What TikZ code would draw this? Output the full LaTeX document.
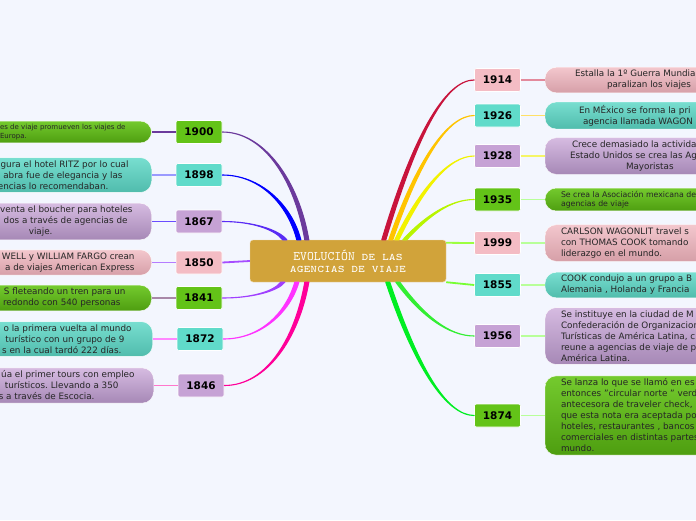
\documentclass[tikz,border=0pt]{standalone}
\usepackage{fontspec}
\setmainfont{DejaVu Sans}
\newfontfamily\titlefont{lmmonocaps10-regular.otf}
\usepackage{tikz}
\usetikzlibrary{positioning}
\frenchspacing

\definecolor{bg}{HTML}{F3F6FE}
\definecolor{gold}{HTML}{D1A33A}
\definecolor{grn}{HTML}{63C318}
\definecolor{tea}{HTML}{60DBCA}
\definecolor{lav}{HTML}{C6A2D5}
\definecolor{pnk}{HTML}{F4BCC4}
\definecolor{grntop}{HTML}{74CA2E}
\definecolor{grnbot}{HTML}{4E9E10}
\definecolor{teatop}{HTML}{78DED0}
\definecolor{teabot}{HTML}{50BCAC}
\definecolor{lavtop}{HTML}{D6BBE1}
\definecolor{lavbot}{HTML}{A688B6}
\definecolor{pnktop}{HTML}{F3C7CD}
\definecolor{pnkbot}{HTML}{D69FA8}
% branch colours
\definecolor{br1900}{HTML}{6B3A9C}
\definecolor{br1898}{HTML}{0000FF}
\definecolor{br1867}{HTML}{5A2CF5}
\definecolor{br1850}{HTML}{A64DFF}
\definecolor{br1841}{HTML}{A040FF}
\definecolor{br1872}{HTML}{FF33FF}
\definecolor{br1846}{HTML}{FF0099}
\definecolor{br1914}{HTML}{C8143C}
\definecolor{br1926}{HTML}{FFC400}
\definecolor{br1928}{HTML}{F2F200}
\definecolor{br1935}{HTML}{B8F500}
\definecolor{br1999}{HTML}{9CFF40}
\definecolor{br1855}{HTML}{77FF33}
\definecolor{br1956}{HTML}{33EE33}
\definecolor{br1874}{HTML}{00EE22}
% twig colours
\definecolor{tw1898}{HTML}{9A9AFF}
\definecolor{tw1867}{HTML}{6A4CFF}
\definecolor{tw1850}{HTML}{B57CFF}
\definecolor{tw1841}{HTML}{A888A8}
\definecolor{tw1872}{HTML}{FF88FF}
\definecolor{tw1846}{HTML}{FF77CC}
\definecolor{tw1914}{HTML}{E38A9C}
\definecolor{tw1926}{HTML}{FFE066}
\definecolor{tw1928}{HTML}{F5F566}
\definecolor{twgreen}{HTML}{B8FF99}

\begin{document}
\begin{tikzpicture}[
  x=1pt, y=-1pt,
  node distance=24pt,
  year/.style={rectangle, draw=white, line width=0.6pt, rounded corners=2pt, minimum width=46pt, minimum height=23pt, inner sep=0pt, font=\fontsize{10.5}{12}\selectfont\bfseries},
  note/.style={rectangle, draw=white, line width=0.4pt, rounded corners=11pt, inner ysep=3pt, text=black!85, font=\fontsize{8.8}{11}\selectfont},
  lnote/.style={note, text width=200pt, align=flush right},
  rnote/.style={note, text width=200pt, align=flush left, inner xsep=16pt},
  gnote/.style={top color=grntop, bottom color=grnbot},
  tnote/.style={top color=teatop, bottom color=teabot},
  vnote/.style={top color=lavtop, bottom color=lavbot},
  pnote/.style={top color=pnktop, bottom color=pnkbot},
  title/.style={rectangle, draw=white!60!gold, fill=gold, rounded corners=3pt, minimum width=196pt, minimum height=42pt, align=center, text=white, font=\titlefont\fontsize{13}{12}\selectfont},
  taper/.style={fill, line width=1.1pt, line join=round},
  branch/.style={line width=1.8pt},
  twig/.style={line width=1.2pt}
]
\useasboundingbox (0,0) rectangle (696,520);
\clip (0,0) rectangle (696,520);
\fill[bg] (0,0) rectangle (696,520);

\node[title] (evo) at (348,261) {EVOLUCIÓN de las\\agencias de viaje};

% left side
\node[year, fill=grn] (y1900) at (199,132) {1900};
\node[year, fill=tea] (y1898) at (199,175) {1898};
\node[year, fill=lav] (y1867) at (199,221.5) {1867};
\node[year, fill=pnk] (y1850) at (199,262.5) {1850};
\node[year, fill=grn] (y1841) at (199,298) {1841};
\node[year, fill=tea] (y1872) at (200,339) {1872};
\node[year, fill=lav] (y1846) at (201,385.5) {1846};

\node[note, gnote, align=flush left, inner xsep=26pt, font=\fontsize{7}{9}\selectfont, left=of y1900] (t1900) {es de viaje promueven los viajes de\\ Europa.};
\node[lnote, tnote, inner xsep=23pt, left=of y1898] (t1898) {gura el hotel RITZ por lo cual\\ abra fue de elegancia y las\kern6pt\\ encias lo recomendaban.\kern20pt};
\node[lnote, vnote, inner xsep=19pt, left=of y1867] (t1867) {venta el boucher para hoteles\\ dos a través de agencias de\kern5pt\\ viaje.\kern80pt};
\node[lnote, pnote, inner xsep=17pt, left=of y1850] (t1850) {WELL y WILLIAM FARGO crean\\ a de viajes American Express};
\node[lnote, gnote, inner xsep=26pt, left=of y1841] (t1841) {S fleteando un tren para un\\ redondo con 540 personas\kern5pt};
\node[lnote, tnote, inner xsep=21pt, left=of y1872] (t1872) {o la primera vuelta al mundo\\ turístico con un grupo de 9\kern7pt\\ s en la cual tardó 222 días.\kern10pt};
\node[lnote, vnote, inner xsep=19pt, left=of y1846] (t1846) {úa el primer tours con empleo\\ turísticos. Llevando a 350\kern16pt\\ s a través de Escocia.\kern40pt};

% right side
\node[year, fill=pnk] (y1914) at (497.5,80) {1914};
\node[year, fill=tea] (y1926) at (497.5,115.5) {1926};
\node[year, fill=lav] (y1928) at (497.5,156) {1928};
\node[year, fill=grn] (y1935) at (497.5,199.5) {1935};
\node[year, fill=pnk] (y1999) at (497.5,243) {1999};
\node[year, fill=tea] (y1855) at (497.5,285) {1855};
\node[year, fill=lav] (y1956) at (497.5,336) {1956};
\node[year, fill=grn] (y1874) at (497.5,415.5) {1874};

\node[rnote, pnote, right=of y1914] (t1914) {\hspace*{14pt}Estalla la 1º Guerra Mundial\\ \hspace*{46pt}paralizan los viajes};
\node[rnote, tnote, right=of y1926] (t1926) {\hspace*{18pt}En MÉxico se forma la pri\\ \hspace*{22pt}agencia llamada WAGON};
\node[rnote, vnote, right=of y1928] (t1928) {\hspace*{11pt}Crece demasiado la activida\\ \hspace*{9pt}Estado Unidos se crea las Ag\\ \hspace*{65pt}Mayoristas};
\node[rnote, gnote, font=\fontsize{7.8}{9}\selectfont, right=of y1935] (t1935) {Se crea la Asociación mexicana de\\ agencias de viaje};
\node[rnote, pnote, right=of y1999] (t1999) {CARLSON WAGONLIT travel s\\ con THOMAS COOK tomando\\ liderazgo en el mundo.};
\node[rnote, tnote, right=of y1855] (t1855) {COOK condujo a un grupo a B\\ Alemania , Holanda y Francia};
\node[rnote, vnote, right=of y1956] (t1956) {Se instituye en la ciudad de M\\ Confederación de Organizacion\\ Turísticas de América Latina, c\\ reune a agencias de viaje de p\\ América Latina.};
\node[rnote, gnote, right=of y1874] (t1874) {Se lanza lo que se llamó en es\\ entonces "circular norte " verd\\ antecesora de traveler check,\\ que esta nota era aceptada po\\ hoteles, restaurantes , bancos\\ comerciales en distintas partes\\ mundo.};

% branches, thick at the centre and thin at the year
\draw[taper, br1900] ([xshift=55pt]evo.north west) .. controls +(-10,-59) and +(42,0) .. (y1900.east) .. controls +(42,0) and +(-10,-59) .. ([xshift=59pt]evo.north west) -- cycle;
\draw[taper, br1898] ([xshift=47pt]evo.north west) .. controls +(-9,-35) and +(38,0) .. (y1898.east) .. controls +(38,0) and +(-9,-35) .. ([xshift=51pt]evo.north west) -- cycle;
\draw[taper, br1867] ([xshift=33pt]evo.north west) .. controls +(-8,-10) and +(31,0) .. (y1867.east) .. controls +(31,0) and +(-8,-10) .. ([xshift=37pt]evo.north west) -- cycle;
\draw[branch, br1850] (evo.west) -- (y1850.east);
\draw[taper, br1841] ([xshift=31pt]evo.south west) .. controls +(-7,9) and +(30,0) .. (y1841.east) .. controls +(30,0) and +(-7,9) .. ([xshift=35pt]evo.south west) -- cycle;
\draw[taper, br1872] ([xshift=45pt]evo.south west) .. controls +(-9,31) and +(37,0) .. (y1872.east) .. controls +(37,0) and +(-9,31) .. ([xshift=49pt]evo.south west) -- cycle;
\draw[taper, br1846] ([xshift=55pt]evo.south west) .. controls +(-10,57) and +(42,0) .. (y1846.east) .. controls +(42,0) and +(-10,57) .. ([xshift=59pt]evo.south west) -- cycle;

\draw[taper, br1914] ([xshift=132pt]evo.north west) .. controls +(30,-100) and +(-30,0) .. (y1914.west) .. controls +(-30,0) and +(30,-100) .. ([xshift=136pt]evo.north west) -- cycle;
\draw[taper, br1926] ([xshift=139pt]evo.north west) .. controls +(27,-78) and +(-27,0) .. (y1926.west) .. controls +(-27,0) and +(27,-78) .. ([xshift=143pt]evo.north west) -- cycle;
\draw[taper, br1928] ([xshift=145pt]evo.north west) .. controls +(25,-52) and +(-25,0) .. (y1928.west) .. controls +(-25,0) and +(25,-52) .. ([xshift=149pt]evo.north west) -- cycle;
\draw[taper, br1935] ([xshift=153pt]evo.north west) .. controls +(23,-25) and +(-23,0) .. (y1935.west) .. controls +(-23,0) and +(23,-25) .. ([xshift=157pt]evo.north west) -- cycle;
\draw[branch, br1999] ([yshift=-3pt]evo.north east) -- (y1999.west);
\draw[branch, br1855] (evo.south east) -- (y1855.west);
\draw[taper, br1956] ([xshift=146pt]evo.south west) .. controls +(25,34) and +(-25,0) .. (y1956.west) .. controls +(-25,0) and +(25,34) .. ([xshift=150pt]evo.south west) -- cycle;
\draw[taper, br1874] ([xshift=136pt]evo.south west) .. controls +(28,84) and +(-28,0) .. (y1874.west) .. controls +(-28,0) and +(28,84) .. ([xshift=140pt]evo.south west) -- cycle;

% twigs
\draw[twig, br1900] (y1900.west) -- (t1900.east);
\draw[twig, tw1898] (y1898.west) -- (t1898.east);
\draw[twig, tw1867] (y1867.west) -- (t1867.east);
\draw[twig, tw1850] (y1850.west) -- (t1850.east);
\draw[twig, tw1841] (y1841.west) -- (t1841.east);
\draw[twig, tw1872] (y1872.west) -- (t1872.east);
\draw[twig, tw1846] (y1846.west) -- (t1846.east);
\draw[twig, tw1914] (y1914.east) -- (t1914.west);
\draw[twig, tw1926] (y1926.east) -- (t1926.west);
\draw[twig, tw1928] (y1928.east) -- (t1928.west);
\foreach \n in {1935,1999,1855,1956,1874}
  \draw[twig, twgreen] (y\n.east) -- (t\n.west);
\end{tikzpicture}
\end{document}
